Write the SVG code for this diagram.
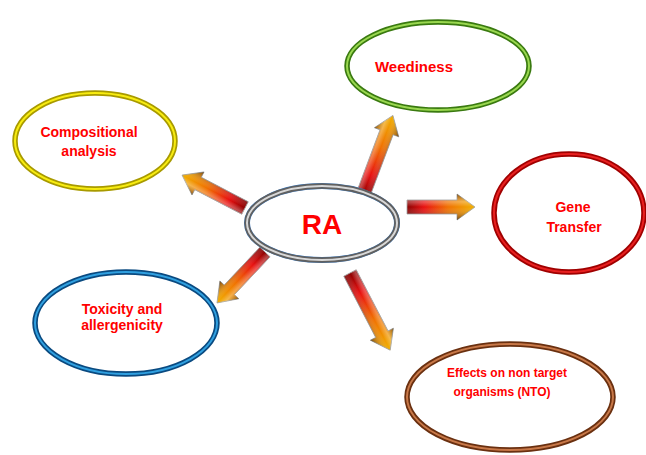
<svg xmlns="http://www.w3.org/2000/svg" width="646" height="455" viewBox="0 0 646 455">
<defs>
<linearGradient id="gLen" x1="0" y1="0" x2="1" y2="0">
<stop offset="0" stop-color="#8a0000"/>
<stop offset="0.25" stop-color="#e81010"/>
<stop offset="0.6" stop-color="#f07000"/>
<stop offset="1" stop-color="#f0b000"/>
</linearGradient>
<linearGradient id="gShade" x1="0" y1="0" x2="0" y2="1">
<stop offset="0" stop-color="#000" stop-opacity="0.4"/>
<stop offset="0.3" stop-color="#fff" stop-opacity="0.3"/>
<stop offset="0.5" stop-color="#fff" stop-opacity="0"/>
<stop offset="1" stop-color="#000" stop-opacity="0.5"/>
</linearGradient>
<style>
.lbl{font-family:"Liberation Sans",Arial,sans-serif;font-weight:bold;fill:#ff0000;text-anchor:middle}
.arw{fill:url(#gLen);stroke:#a0a0a0;stroke-width:0.8}
.shd{fill:url(#gShade)}
.o{fill:none;stroke-width:5.5}
.i{fill:none;stroke-width:2}
</style>
</defs>
<rect width="646" height="455" fill="#fff"/>
<g id="connectors">
<g transform="translate(363,195) rotate(-69.4)">
<path class="arw" d="M0,-7 L67,-7 L67,-13 L85,0 L67,13 L67,7 L0,7 Z"/>
<path class="shd" d="M0,-7 L67,-7 L67,-13 L85,0 L67,13 L67,7 L0,7 Z"/>
</g>
<g transform="translate(407,207)">
<path class="arw" d="M0,-7 L50,-7 L50,-13 L68,0 L50,13 L50,7 L0,7 Z"/>
<path class="shd" d="M0,-7 L50,-7 L50,-13 L68,0 L50,13 L50,7 L0,7 Z"/>
</g>
<g transform="translate(245,208) rotate(-152.4)">
<path class="arw" d="M0,-7 L53,-7 L53,-13 L71,0 L53,13 L53,7 L0,7 Z"/>
<path class="shd" d="M0,-7 L53,-7 L53,-13 L71,0 L53,13 L53,7 L0,7 Z"/>
</g>
<g transform="translate(265,252) rotate(133.3)">
<path class="arw" d="M0,-7 L52,-7 L52,-13 L70,0 L52,13 L52,7 L0,7 Z"/>
<path class="shd" d="M0,-7 L52,-7 L52,-13 L70,0 L52,13 L52,7 L0,7 Z"/>
</g>
<g transform="translate(350,273) rotate(62.5)">
<path class="arw" d="M0,-7 L69,-7 L69,-13 L87,0 L69,13 L69,7 L0,7 Z"/>
<path class="shd" d="M0,-7 L69,-7 L69,-13 L87,0 L69,13 L69,7 L0,7 Z"/>
</g>
</g>
<g id="ra">
<ellipse cx="322" cy="223" rx="75" ry="37" fill="#fff" stroke="#3a7ac0" stroke-width="6"/>
<ellipse class="o" cx="322" cy="223" rx="75" ry="37" stroke="#606060" stroke-width="4"/>
<ellipse class="i" cx="322" cy="223" rx="75" ry="37" stroke="#d8d8d8" stroke-width="1.5"/>
<text class="lbl" x="322" y="234" font-size="28">RA</text>
</g>
<g id="weediness">
<ellipse class="o" cx="438" cy="66" rx="91" ry="44" stroke="#3a7a10"/>
<ellipse class="i" cx="438" cy="66" rx="91" ry="44" stroke="#9ad850"/>
<text class="lbl" x="414" y="72" font-size="15">Weediness</text>
</g>
<g id="compositional">
<ellipse class="o" cx="95" cy="141" rx="80" ry="48" stroke="#a89a00"/>
<ellipse class="i" cx="95" cy="141" rx="80" ry="48" stroke="#f8ec10"/>
<text class="lbl" x="89" y="137" font-size="14">Compositional</text>
<text class="lbl" x="89" y="156" font-size="14">analysis</text>
</g>
<g id="gene">
<ellipse class="o" cx="569" cy="213" rx="75" ry="59" stroke="#a00000"/>
<ellipse class="i" cx="569" cy="213" rx="75" ry="59" stroke="#e82020"/>
<text class="lbl" x="573" y="212" font-size="14">Gene</text>
<text class="lbl" x="574" y="232" font-size="14">Transfer</text>
</g>
<g id="toxicity">
<ellipse class="o" cx="126" cy="323" rx="91" ry="51" stroke="#0a4a80"/>
<ellipse class="i" cx="126" cy="323" rx="91" ry="51" stroke="#30a0e0"/>
<text class="lbl" x="122" y="314" font-size="14">Toxicity and</text>
<text class="lbl" x="122" y="330" font-size="14">allergenicity</text>
</g>
<g id="nto">
<ellipse class="o" cx="510" cy="397" rx="103" ry="53" stroke="#6a3010"/>
<ellipse class="i" cx="510" cy="397" rx="103" ry="53" stroke="#c87848"/>
<text class="lbl" x="507" y="377" font-size="12">Effects on non target</text>
<text class="lbl" x="502" y="396" font-size="12">organisms (NTO)</text>
</g>
</svg>
